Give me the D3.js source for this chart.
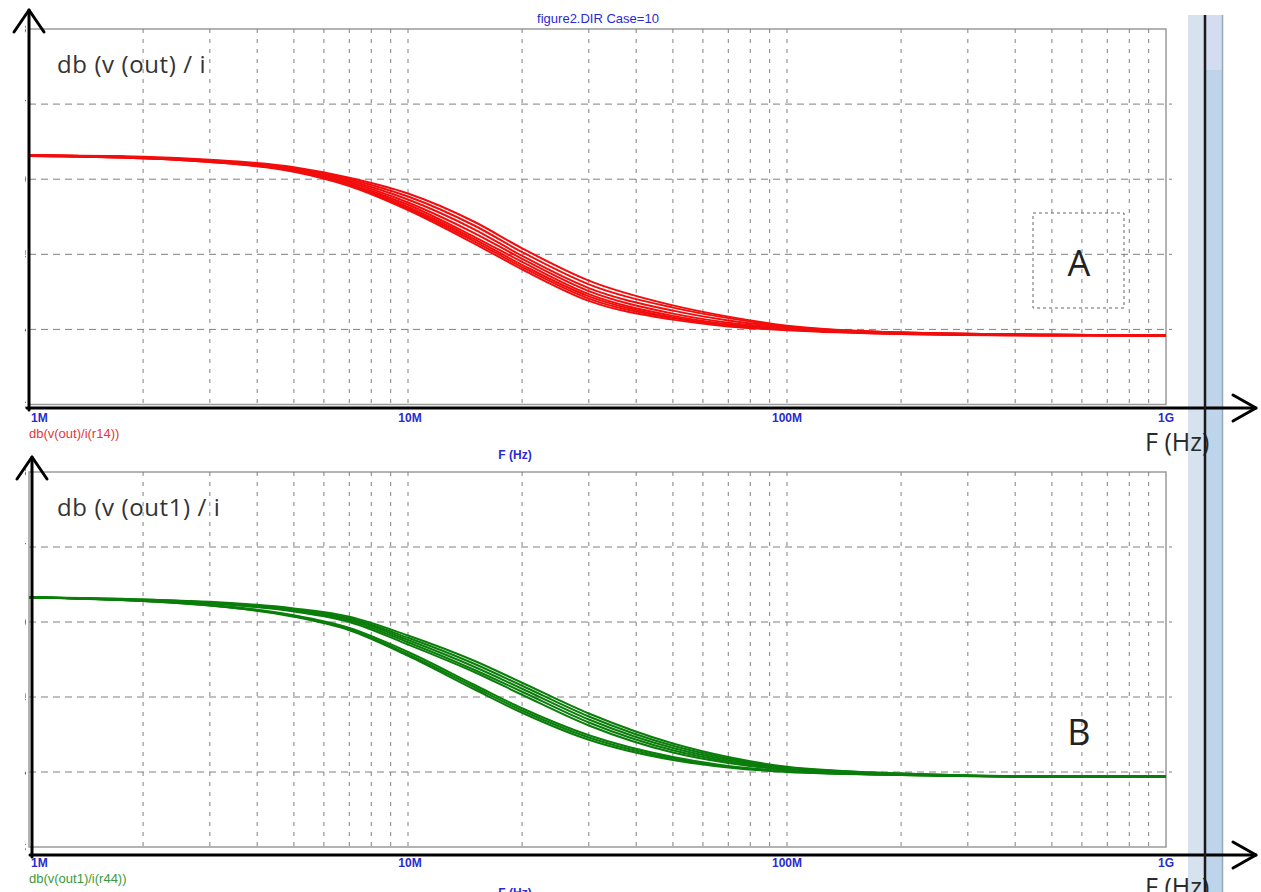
<!DOCTYPE html>
<html>
<head>
<meta charset="utf-8">
<script src="https://cdn.jsdelivr.net/npm/d3@7"></script>
<style>
    body{margin:0;background:#fff;}
    svg{display:block;}
</style>
</head>
<body>
<div id="chart"></div>
<script>
// 0.data
// frequency points (Hz) where the curves were read off
var freqs=[1e6,2e6,3e6,5e6,7e6,1e7,1.5e7,2e7,3e7,5e7,7e7,1e8,2e8,5e8,1e9];

// db(v(out)/i(r14)), one row per run
var redCurves=[
    [63.1,62.8,62.3,61.0,59.1,55.9,51.4,48.0,43.8,41.3,40.4,39.9,39.4,39.2,39.2],
    [63.1,62.8,62.3,61.1,59.2,56.1,51.7,48.3,44.1,41.5,40.5,40.0,39.4,39.2,39.2],
    [63.2,62.8,62.4,61.1,59.3,56.3,52.0,48.6,44.4,41.6,40.6,40.0,39.5,39.2,39.2],
    [63.2,62.9,62.4,61.2,59.4,56.6,52.3,49.0,44.7,41.8,40.7,40.1,39.5,39.3,39.2],
    [63.2,62.9,62.4,61.3,59.6,56.9,52.8,49.4,45.1,42.1,40.9,40.2,39.5,39.3,39.2],
    [63.2,62.9,62.5,61.4,59.8,57.3,53.3,49.8,45.5,42.5,41.2,40.3,39.6,39.3,39.2],
    [63.2,62.9,62.5,61.5,60.0,57.7,53.8,50.3,46.0,42.9,41.5,40.4,39.6,39.3,39.2],
    [63.2,63.0,62.6,61.6,60.2,58.1,54.3,50.8,46.5,43.2,41.7,40.5,39.6,39.3,39.2]
];

// db(v(out1)/i(r44)), one row per run
var greenCurves=[
    [63.3,62.8,62.2,60.7,58.9,55.5,51.0,47.9,44.3,41.6,40.6,40.0,39.6,39.4,39.4],
    [63.3,62.8,62.2,60.8,59.0,55.7,51.3,48.2,44.6,41.8,40.7,40.1,39.6,39.4,39.4],
    [63.3,62.8,62.3,60.9,59.2,56.0,51.6,48.5,44.9,42.0,40.8,40.1,39.6,39.4,39.4],
    [63.3,62.9,62.5,61.4,60.0,57.0,53.3,50.3,46.2,42.6,41.2,40.3,39.7,39.4,39.4],
    [63.3,62.9,62.5,61.5,60.2,57.3,53.6,50.7,46.6,42.9,41.4,40.4,39.7,39.4,39.4],
    [63.3,62.9,62.6,61.6,60.4,57.6,54.0,51.1,47.0,43.2,41.6,40.5,39.7,39.4,39.4],
    [63.3,63.0,62.6,61.7,60.5,57.9,54.4,51.5,47.4,43.5,41.8,40.6,39.8,39.4,39.4],
    [63.3,63.0,62.7,61.8,60.7,58.2,54.8,51.9,47.8,43.8,42.0,40.7,39.8,39.4,39.4]
];

// axis ticks
var xTickValues=[1e6,1e7,1e8,1e9];
var xTickLabels=["1M","10M","100M","1G"];
var yTickValues=[30,40,50,60,70,80];

// 0.1.size
var svgW=1261, svgH=892;
var plotL=29, plotR=1166;

var svg=d3.select("#chart").append("svg")
    .attr("width",svgW).attr("height",svgH);

var xScale=d3.scaleLog()
    .domain([1e6,1e9])
    .range([plotL,plotR]);

// minor + major grid positions
var gridX=[];
[1e6,1e7,1e8].forEach(function(dec){
    for(var k=1;k<10;k++){
        if(dec*k>1e6) gridX.push(dec*k);
    }
});

// 1.right side scroll bars (drawn first, lines cross them)
svg.append("rect").attr("x",1188).attr("y",15).attr("width",16).attr("height",svgH-15)
    .style("fill","#d6e2ee");
svg.append("rect").attr("x",1206).attr("y",15).attr("width",16).attr("height",svgH-15)
    .style("fill","#bdd4ea");
svg.append("rect").attr("x",1206).attr("y",15).attr("width",16).attr("height",55)
    .style("fill","#d4dcf0");
svg.append("line").attr("x1",1222.5).attr("x2",1222.5).attr("y1",15).attr("y2",svgH)
    .style("stroke","#97a7b8").style("stroke-width",1.5);

// 2.panels
function drawPanel(p){
    var yScale=d3.scaleLinear()
        .domain([30,80])
        .range([p.bottom,p.top]);

    var g=svg.append("g");

    // clip for cut-off y tick labels
    var clipId="clip"+p.name;
    svg.append("clipPath").attr("id",clipId)
        .append("rect").attr("x",21).attr("y",p.top-10).attr("width",5).attr("height",p.bottom-p.top+20);

    // frame
    g.append("rect")
        .attr("x",plotL).attr("y",p.top)
        .attr("width",plotR-plotL).attr("height",p.bottom-p.top)
        .style("fill","none").style("stroke","#9a9a9a").style("stroke-width",1.5);

    // grid
    g.selectAll(".gx").data(gridX).enter().append("line")
        .attr("x1",function(d){return xScale(d);})
        .attr("x2",function(d){return xScale(d);})
        .attr("y1",p.top).attr("y2",p.bottom)
        .style("stroke","#808080").style("stroke-width",1)
        .style("stroke-dasharray","4,6");
    g.selectAll(".gy").data(yTickValues.slice(1,-1)).enter().append("line")
        .attr("x1",plotL).attr("x2",plotR+6)
        .attr("y1",function(d){return yScale(d);})
        .attr("y2",function(d){return yScale(d);})
        .style("stroke","#808080").style("stroke-width",1)
        .style("stroke-dasharray","7,5");

    // y tick labels, mostly hidden behind the axis
    g.append("g").attr("clip-path","url(#"+clipId+")")
        .selectAll("text").data(yTickValues).enter().append("text")
        .attr("x",37).attr("y",function(d){return yScale(d)+4;})
        .attr("text-anchor","end")
        .style("font-family","Liberation Sans, Arial, sans-serif")
        .style("font-size","11px").style("font-weight","bold")
        .style("fill","#3030c0")
        .text(function(d){return d;});

    // curves
    var line=d3.line()
        .x(function(d,i){return xScale(freqs[i]);})
        .y(function(d){return yScale(d);})
        .curve(d3.curveMonotoneX);
    g.selectAll(".curve").data(p.curves).enter().append("path")
        .attr("d",line)
        .style("fill","none")
        .style("stroke",p.color)
        .style("stroke-width",2);

    // black axes with arrows
    var ax=g.append("g")
        .style("stroke","#000").style("fill","none")
        .style("stroke-width",3).style("stroke-linecap","round").style("stroke-linejoin","round");
    ax.append("line").attr("x1",p.axisX).attr("x2",p.axisX)
        .attr("y1",p.arrowTop).attr("y2",p.axisY+2);
    ax.append("path").attr("d","M"+(p.axisX-15)+","+(p.arrowTop+22)+"L"+p.axisX+","+p.arrowTop+"L"+(p.axisX+15)+","+(p.arrowTop+22));
    ax.append("line").attr("x1",p.axisX-2).attr("x2",1256)
        .attr("y1",p.axisY).attr("y2",p.axisY);
    ax.append("path").attr("d","M1233,"+(p.axisY-13)+"L1256,"+p.axisY+"L1233,"+(p.axisY+13));

    // x tick labels
    g.selectAll(".xl").data(xTickValues).enter().append("text")
        .attr("x",function(d,i){return i==0?plotL+2:xScale(d)+(i==1?2:0);})
        .attr("y",p.axisY+p.tickDy)
        .attr("text-anchor",function(d,i){return i==0?"start":"middle";})
        .style("font-family","Liberation Sans, Arial, sans-serif")
        .style("font-size","12px").style("font-weight","bold")
        .style("fill","#2a2ad0")
        .text(function(d,i){return xTickLabels[i];});

    // trace name
    g.append("text").attr("x",plotL).attr("y",p.axisY+p.traceDy)
        .style("font-family","Liberation Sans, Arial, sans-serif")
        .style("font-size","13px")
        .style("fill",p.labelColor)
        .text(p.traceName);

    // blue x axis title
    g.append("text").attr("x",515).attr("y",p.axisY+p.titleDy)
        .attr("text-anchor","middle")
        .style("font-family","Liberation Sans, Arial, sans-serif")
        .style("font-size","12px").style("font-weight","bold")
        .style("fill","#2a2ad0")
        .text("F (Hz)");

    // annotations
    g.append("text").attr("x",57).attr("y",p.top+44)
        .style("font-family","Open Sans, sans-serif")
        .style("font-size","24px").style("letter-spacing","0.6px")
        .style("fill","#333")
        .text(p.yName);
    g.append("text").attr("x",1079).attr("y",p.top+p.letterDy)
        .attr("text-anchor","middle")
        .style("font-family","Open Sans, sans-serif")
        .style("font-size","36px")
        .style("fill","#222")
        .text(p.letter);
    g.append("text").attr("x",1145).attr("y",p.axisY+p.bigDy)
        .style("font-family","Open Sans, sans-serif")
        .style("font-size","25px")
        .style("fill","#2a2a2a")
        .text("F (Hz)");

    return yScale;
}

var yTop=drawPanel({
    name:"top", top:29, bottom:404.5, axisY:408, axisX:29, arrowTop:10,
    curves:redCurves, color:"#f20d0d", labelColor:"#e0393a",
    traceName:"db(v(out)/i(r14))", yName:"db (v (out) / i",
    letter:"A", letterDy:247, tickDy:14, traceDy:30, titleDy:51, bigDy:43
});

// dotted box around A
svg.append("rect").attr("x",1033).attr("y",213).attr("width",91).attr("height",95)
    .style("fill","none").style("stroke","#666").style("stroke-width",1)
    .style("stroke-dasharray","3,3");

drawPanel({
    name:"bot", top:472, bottom:847, axisY:855, axisX:32, arrowTop:457,
    curves:greenCurves, color:"#0a7d0a", labelColor:"#3a9a3a",
    traceName:"db(v(out1)/i(r44))", yName:"db (v (out1) / i",
    letter:"B", letterDy:273, tickDy:12, traceDy:28, titleDy:42, bigDy:41
});

// top title, top half cut off by the window edge
svg.append("text").attr("x",598).attr("y",23)
    .attr("text-anchor","middle")
    .style("font-family","Liberation Sans, Arial, sans-serif")
    .style("font-size","13px")
    .style("fill","#2a2ad0")
    .text("figure2.DIR Case=10");
svg.append("rect").attr("x",500).attr("y",0).attr("width",200).attr("height",14)
    .style("fill","#fff");

// dark vertical line over scroll bars
svg.append("line").attr("x1",1205).attr("x2",1205).attr("y1",15).attr("y2",svgH)
    .style("stroke","#1a1a1a").style("stroke-width",2.5);
</script>
</body>
</html>
